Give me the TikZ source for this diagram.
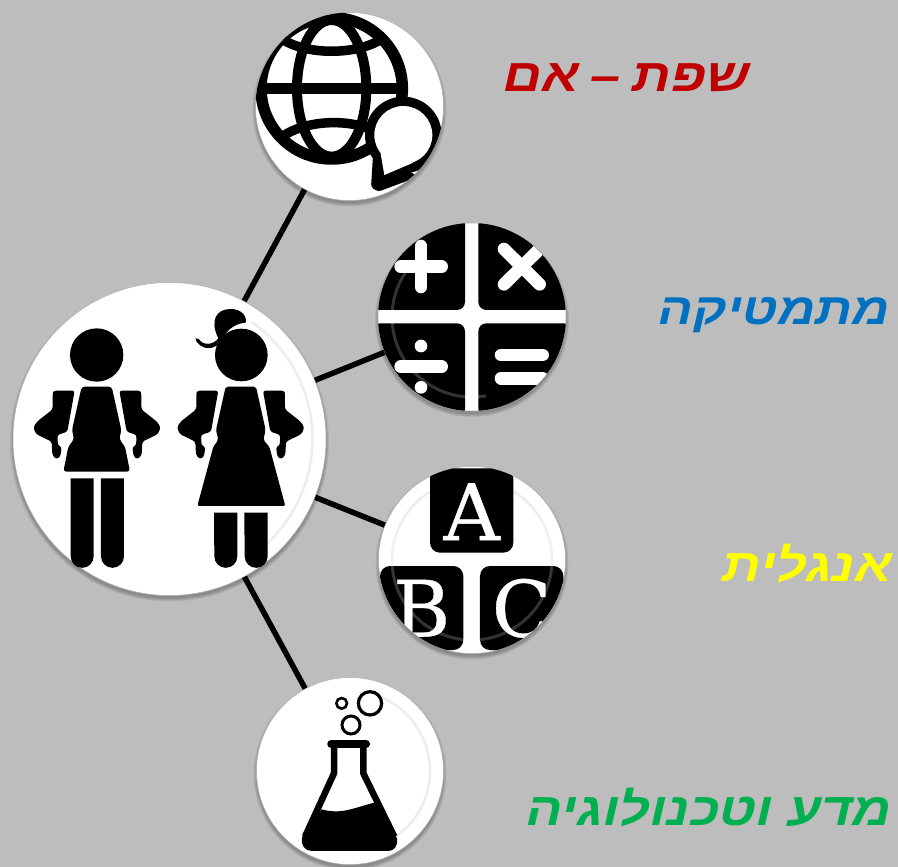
\documentclass[tikz,border=0pt]{standalone}
\usepackage{fontspec}
\TeXXeTstate=1
\newfontfamily\hebfont[Script=Hebrew,FakeStretch=1.17]{Liberation Sans}
\newfontfamily\letterfont[FakeBold=0.5]{DejaVu Serif}
\pgfdeclarelayer{under}
\pgfsetlayers{under,main}
\definecolor{pagegray}{HTML}{BDBDBD}
\definecolor{lblred}{HTML}{C00000}
\definecolor{lblblue}{HTML}{0070C0}
\definecolor{lblyellow}{HTML}{FFFF00}
\definecolor{lblgreen}{HTML}{00B050}
\tikzset{
  badge/.style={circle,fill=white,draw=black!30,line width=0.5pt,inner sep=0pt,minimum size=#1},
  link/.style={line width=5.5pt,black},
  label/.style={anchor=east,inner sep=0pt,font=\hebfont\bfseries\itshape\fontsize{#1}{#1}\selectfont},
  label/.default=46,
  ringmark/.style={draw=black!7,line width=2.5pt},
  sheen/.style={draw=white,opacity=.2,line width=3pt},
  glyph/.style={anchor=center,inner sep=0pt,text=white,font=\letterfont\fontsize{78}{78}\selectfont},
  whitebar/.style={line width=12.6pt,white,line cap=round}
}
\newcommand\softshadow[2]{%
  \foreach \d in {3,2,1,0}{\fill[black,opacity=.07] ([yshift=-3pt]#1.center) circle [radius=#2pt+\d pt];}}
\newcommand\kidarms[1]{%
  \begin{scope}[shift={(#1,0)}]
    \foreach \s in {1,-1}{
      \fill[black,rounded corners=2.5pt,xscale=\s]
        (-131,362)--(-67,362)--(-89,485)--(-119,495)--(-117,528)--(-106,530)--(-110,560)--(-122,568)--(-134,555)--(-136,515)--(-183,492)--(-191,472)--(-180,455)--(-133,418)--(-133,372)--cycle;}
  \end{scope}}
\newcommand\kidleg[3]{% left, right, top
  \fill[black] (#1,#3)--(#2,#3)--(#2,859) arc[start angle=0,end angle=180,radius=34.5]--cycle;}
\begin{document}
\begin{tikzpicture}[x=1pt,y=-1pt]
\useasboundingbox (0,0) rectangle (898,867);

% nodes
\node[badge=313pt] (pupils) at (169.5,439) {};
\node[badge=188pt] (globe) at (349.5,106.5) {};
\node[badge=188pt] (maths) at (472,317) {};
\node[badge=187pt] (abc) at (472,560) {};
\node[badge=187pt] (flask) at (350,771) {};

\begin{pgfonlayer}{under}
  \fill[pagegray] (0,0) rectangle (898,867);
  \draw[link] (pupils.center) -- (globe.center);
  \draw[link] (pupils.center) -- (maths.center);
  \draw[link] (pupils.center) -- (abc.center);
  \draw[link] (pupils.center) -- (flask.center);
  \softshadow{pupils}{156.5}
  \softshadow{globe}{94}
  \softshadow{maths}{94}
  \softshadow{abc}{93.5}
  \softshadow{flask}{93.5}
\end{pgfonlayer}

% --- pupils
\draw[ringmark] ([shift={(-55:143)}]pupils.center) arc[start angle=-55,end angle=50,radius=143];
\begin{scope}[shift={(0,270)},x=1/3*1pt,y=-1/3*1pt]
  % boy
  \fill (290,255) circle [radius=80];
  \fill[rounded corners=3pt] (245,350)--(335,350)--(364,480)--(358,508)--(375,530)--(390,605)--(190,605)--(205,530)--(222,508)--(216,480)--cycle;
  \kidarms{291}
  \kidleg{212}{281}{625}
  \kidleg{303}{372}{625}
  % girl
  \fill (724,255) circle [radius=79];
  \fill[rounded corners=2pt] (677,350)--(768,350)--(797,480)--(790,510)--(808,530)--(856,708)--(592,708)--(640,530)--(655,510)--(648,480)--cycle;
  \kidarms{722}
  \kidleg{642}{712}{728}
  \kidleg{733}{803}{728}
  % hair
  \fill (655,205) .. controls (628,150) and (650,118) .. (690,117)
        .. controls (720,116) and (742,135) .. (737,158)
        .. controls (715,160) and (690,170) .. (675,195)
        .. controls (660,235) and (615,250) .. (590,215)
        -- (586,205) -- (596,207)
        .. controls (610,228) and (640,225) .. (655,205) -- cycle;
\end{scope}

% --- globe
\begin{scope}
  \clip (globe.center) circle [radius=94pt];
  \begin{scope}[shift={(245,0)},x=1/3*1pt,y=-1/3*1pt]
    \draw[line width=11.5pt] (260,265) circle [radius=212];
    \draw[line width=10pt] (260,265) circle [x radius=104,y radius=205];
    \draw[line width=11pt] (45,265) -- (480,265);
    \draw[line width=9.5pt] (115,120) .. controls (190,165) and (330,165) .. (405,120);
    \draw[line width=9.5pt] (105,415) .. controls (180,355) and (330,355) .. (400,400);
    % speech bubble
    \fill[black] (475,405) circle [radius=115];
    \fill[black,rounded corners=3pt] (385,450)--(378,562)--(400,575)--(520,530)--cycle;
    \fill[white] (475,405) circle [radius=87];
    \fill[white] (405,450)--(418,525)--(505,488)--cycle;
  \end{scope}
\end{scope}

% --- maths
\begin{scope}
  \clip (maths.center) circle [radius=94pt];
  \begin{scope}[shift={(245,0)},x=1/3*1pt,y=-1/3*1pt]
    \fill[black,rounded corners=8pt] (380,650)--(660,650)--(660,930)--(380,930)--cycle;
    \fill[black,rounded corners=8pt] (700,650)--(980,650)--(980,930)--(700,930)--cycle;
    \fill[black,rounded corners=8pt] (380,970)--(660,970)--(660,1250)--(380,1250)--cycle;
    \fill[black,rounded corners=8pt] (700,970)--(980,970)--(980,1250)--(700,1250)--cycle;
    % plus
    \draw[whitebar] (467,800)--(590,800);
    \draw[whitebar] (528,738)--(528,861);
    % times
    \draw[whitebar] (777,747)--(884,853);
    \draw[whitebar] (884,747)--(777,853);
    % divide
    \draw[whitebar] (467,1100)--(590,1100);
    \fill[white] (528,1038) circle [radius=19];
    \fill[white] (528,1162) circle [radius=19];
    % equals
    \draw[whitebar] (768,1065)--(893,1065);
    \draw[whitebar] (768,1135)--(893,1135);
  \end{scope}
  \draw[sheen] ([shift={(80:80)}]maths.center) arc[start angle=80,end angle=230,radius=80];
\end{scope}

% --- abc
\begin{scope}
  \clip (abc.center) circle [radius=93.5pt];
  \draw[ringmark] ([shift={(100:80)}]abc.center) arc[start angle=100,end angle=400,radius=80];
  \begin{scope}[shift={(245,460)},x=1/3*1pt,y=-1/3*1pt]
    \fill[black,rounded corners=10pt] (555,25) rectangle (805,278);
    \fill[black,rounded corners=10pt] (405,318) rectangle (655,570);
    \fill[black,rounded corners=10pt] (705,318) rectangle (955,570);
    \node[glyph] (letterA) at (680,155) {A};
    \node[glyph] (letterB) at (530,445) {B};
    \node[glyph] (letterC) at (830,445) {C};
  \end{scope}
  \draw[sheen] ([shift={(-30:80)}]abc.center) arc[start angle=-30,end angle=200,radius=80];
\end{scope}

% --- flask
\begin{scope}
  \clip (flask.center) circle [radius=93.5pt];
  \draw[ringmark] ([shift={(-65:80)}]flask.center) arc[start angle=-65,end angle=60,radius=80];
  \begin{scope}[shift={(245,460)},x=1/3*1pt,y=-1/3*1pt]
    \draw[line width=3.2pt] (375,730) circle [radius=35];
    \draw[line width=2.6pt] (290,730) circle [radius=16];
    \draw[line width=3pt] (318,795) circle [radius=27];
    \draw[line width=7.5pt,line cap=round] (258,852)--(364,852);
    \draw[line width=6.5pt,line join=round] (267,855)--(267,940)--(180,1130);
    \draw[line width=6.5pt,line join=round] (355,855)--(355,940)--(448,1130);
    \fill (230,1048) .. controls (290,1065) and (330,1042) .. (388,1028)
       -- (456,1135) .. controls (460,1160) and (445,1173) .. (430,1173)
       -- (200,1173) .. controls (180,1173) and (165,1155) .. (172,1130) -- cycle;
  \end{scope}
\end{scope}

% --- labels
\node[label,text=lblred] (lblA) at (750,78) {\beginR שפת\hspace{12pt}–\hspace{12pt}אם\endR};
\node[label=44,text=lblblue] (lblB) at (890,315) {\beginR מתמטיקה\endR};
\node[label,text=lblyellow] (lblC) at (892,563) {\beginR אנגלית\endR};
\node[label,text=lblgreen] (lblD) at (892,807) {\beginR מדע וטכנולוגיה\endR};
\end{tikzpicture}
\end{document}
